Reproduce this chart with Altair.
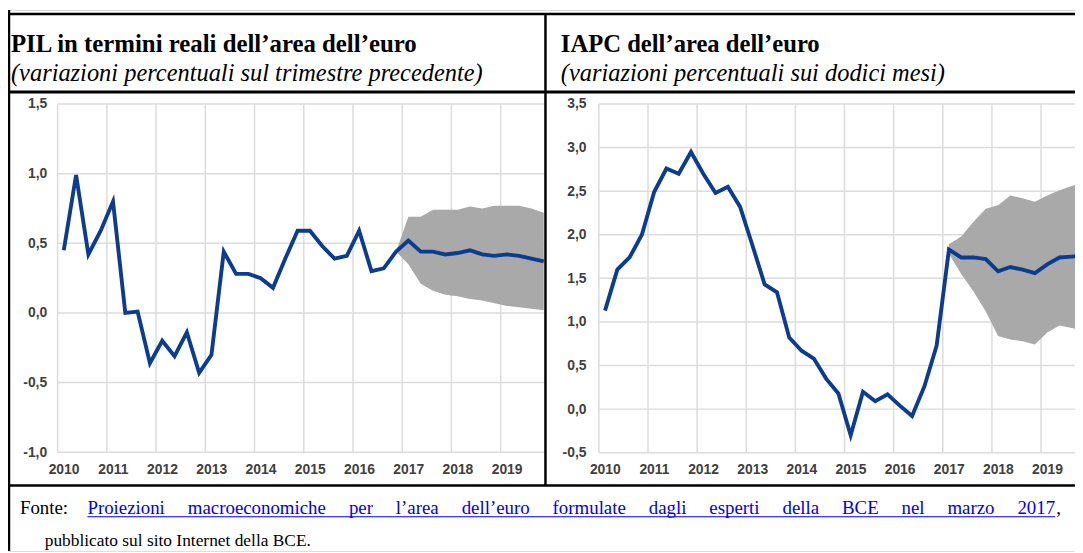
import altair as alt
import pandas as pd

# ------------------------------------------------------------------ data
quarter_labels = [f"{y}Q{q}" for y in range(2010, 2020) for q in range(1, 5)]

gdp_growth = [0.45, 0.99, 0.42, 0.59,
              0.80, 0.00, 0.01, -0.36,
              -0.20, -0.31, -0.14, -0.43,
              -0.30, 0.44, 0.28, 0.28,
              0.25, 0.18, 0.39, 0.59,
              0.59, 0.48, 0.39, 0.41,
              0.59, 0.30, 0.32, 0.44,
              0.52, 0.44, 0.44, 0.42,
              0.43, 0.45, 0.42, 0.41,
              0.42, 0.41, 0.39, 0.37]
gdp_band_quarters = ["2016Q4",
                     "2017Q1", "2017Q2", "2017Q3", "2017Q4",
                     "2018Q1", "2018Q2", "2018Q3", "2018Q4",
                     "2019Q1", "2019Q2", "2019Q3", "2019Q4"]
gdp_band_low = [0.44, 0.35, 0.21, 0.16, 0.13, 0.12, 0.10, 0.09, 0.07, 0.05, 0.04, 0.03, 0.02]
gdp_band_high = [0.44, 0.69, 0.69, 0.74, 0.74, 0.74, 0.765, 0.75, 0.77, 0.77, 0.77, 0.75, 0.72]

hicp_inflation = [1.13, 1.60, 1.74, 2.00,
                  2.49, 2.76, 2.70, 2.95,
                  2.70, 2.48, 2.55, 2.32,
                  1.88, 1.43, 1.34, 0.82,
                  0.67, 0.58, 0.35, 0.18,
                  -0.30, 0.20, 0.09, 0.17,
                  0.04, -0.08, 0.26, 0.73,
                  1.83, 1.74, 1.74, 1.72,
                  1.58, 1.63, 1.60, 1.56,
                  1.66, 1.74, 1.75, 1.76]
hicp_band_quarters = ["2017Q1", "2017Q2", "2017Q3", "2017Q4",
                      "2018Q1", "2018Q2", "2018Q3", "2018Q4",
                      "2019Q1", "2019Q2", "2019Q3", "2019Q4"]
hicp_band_low = [1.78, 1.55, 1.35, 1.12, 0.84, 0.80, 0.78, 0.74, 0.88, 0.96, 0.93, 0.90]
hicp_band_high = [1.89, 1.98, 2.15, 2.30, 2.34, 2.45, 2.42, 2.38, 2.45, 2.51, 2.56, 2.60]

year_ticks = [2010, 2011, 2012, 2013, 2014, 2015, 2016, 2017, 2018, 2019]
gdp_y_ticks = [-1.0, -0.5, 0.0, 0.5, 1.0, 1.5]
hicp_y_ticks = [-0.5, 0.0, 0.5, 1.0, 1.5, 2.0, 2.5, 3.0, 3.5]

titles_left = ["PIL in termini reali dell\u2019area dell\u2019euro",
               "(variazioni percentuali sul trimestre precedente)"]
titles_right = ["IAPC dell\u2019area dell\u2019euro",
                "(variazioni percentuali sui dodici mesi)"]
footer_prefix = "Fonte:"
footer_link_words = ["Proiezioni", "macroeconomiche", "per", "l\u2019area", "dell\u2019euro",
                     "formulate", "dagli", "esperti", "della", "BCE", "nel", "marzo", "2017"]
footer_suffix = ","
footer_line2 = "pubblicato sul sito Internet della BCE."

# ------------------------------------------------------------------ style
W, H = 1075, 545
BLUE = "#0b3c8f"
BAND = "#a9a9a9"
GRID = "#dcdcdc"
LINK = "#0000ee"
SERIF = "Liberation Serif"
SANS = "Liberation Sans"

# approximate advance widths (em) of the footer words, used to justify the line
_word_em = [4.111, 7.331, 1.277, 2.276, 3.610, 3.888, 2.000, 2.666, 1.944,
            1.945, 1.222, 2.499, 2.000]


def qpos(label):
    return int(label[:4]) + (int(label[-1]) - 0.5) / 4.0


LABEL_STYLE = dict(labelFont=SANS, labelFontSize=14, labelFontWeight="bold",
                   labelColor="#404040")
NUM_EXPR = ("replace(replace(format(datum.value, '.1f'), '.', ','), "
            "'\u2212', '-')")


def panel(values, band_q, band_lo, band_hi, y_ticks, x_dom, x_rng, y_dom, y_rng, ypad):
    xs = alt.Scale(domain=x_dom, range=x_rng, nice=False, zero=False)
    ys = alt.Scale(domain=y_dom, range=y_rng, nice=False, zero=False)
    xa = alt.Axis(orient="bottom", offset=y_rng[0] - H, values=year_ticks, format="d",
                  grid=False, domain=False, ticks=False, labelPadding=10,
                  labelOffset=6, labelFlush=False, title=None, labelOverlap=False,
                  **LABEL_STYLE)
    ya = alt.Axis(orient="left", offset=-x_rng[0], values=y_ticks, labelExpr=NUM_EXPR,
                  grid=False, domain=False, ticks=False, labelPadding=ypad,
                  labelFlush=False, title=None, labelOverlap=False, **LABEL_STYLE)

    def X(f):
        return alt.X(f, type="quantitative", scale=xs, axis=xa)

    def Y(f):
        return alt.Y(f, type="quantitative", scale=ys, axis=ya)

    hgrid = alt.Chart(pd.DataFrame({"t": x_dom[0], "t1": x_dom[1], "v": y_ticks})).mark_rule(
        color=GRID, strokeWidth=1.5).encode(x=X("t"), x2="t1", y=Y("v"))
    vgrid = alt.Chart(pd.DataFrame({"t": year_ticks, "v": y_dom[0], "v1": y_dom[1]})).mark_rule(
        color=GRID, strokeWidth=1.5).encode(x=X("t"), y=Y("v"), y2="v1")
    band = alt.Chart(pd.DataFrame({"t": [qpos(q) for q in band_q], "v": band_lo, "v1": band_hi})).mark_area(
        color=BAND, opacity=1).encode(x=X("t"), y=Y("v"), y2="v1")
    line = alt.Chart(pd.DataFrame({"t": [qpos(q) for q in quarter_labels], "v": values})).mark_line(
        color=BLUE, strokeWidth=3.9, strokeJoin="miter").encode(x=X("t"), y=Y("v"))
    return alt.layer(hgrid, vgrid, band, line)


left = panel(gdp_growth, gdp_band_quarters, gdp_band_low, gdp_band_high, gdp_y_ticks,
             [2010, 2019.9], [50, 541], [-1.0, 1.5], [445.5, 94.7], 11)
right = panel(hicp_inflation, hicp_band_quarters, hicp_band_low, hicp_band_high, hicp_y_ticks,
              [2010, 2020], [595.3, 1090.3], [-0.5, 3.5], [446.0, 94.7], 13)

_one = pd.DataFrame({"k": [0]})


def rule(x, x2, y, y2, w=2.5, color="black"):
    return alt.Chart(_one).mark_rule(color=color, strokeWidth=w).encode(
        x=alt.value(x), x2=alt.value(x2), y=alt.value(y), y2=alt.value(y2))


def text(s, x, y, size, weight="normal", style="normal", color="black"):
    return alt.Chart(pd.DataFrame({"s": [s]})).mark_text(
        align="left", baseline="alphabetic", font=SERIF, fontSize=size,
        fontWeight=weight, fontStyle=style, color=color).encode(
        text="s:N", x=alt.value(x), y=alt.value(y))


# justified source line
FOOT_FS = 19
LINK_X0, LINK_X1 = 80, 1055
_widths = [w * FOOT_FS for w in _word_em]
_gap = (LINK_X1 - LINK_X0 - sum(_widths)) / (len(_widths) - 1)
link_marks = []
_x = LINK_X0
for word, wd in zip(footer_link_words, _widths):
    link_marks.append(text(word, _x, 508, FOOT_FS, color=LINK))
    _x += wd + _gap

decor = [
    rule(0, W, 4, 4),            # top border
    rule(1, 1, 0, H),            # left border
    rule(541.5, 541.5, 4, 479),  # middle divider
    rule(0, W, 82.5, 82.5, w=3),  # under titles
    rule(0, W, 479, 479),        # above source
    text(titles_left[0], 3, 42.5, 25, weight="bold"),
    text(titles_left[1], 3, 71.5, 24.6, style="italic"),
    text(titles_right[0], 557, 42.5, 24.8, weight="bold"),
    text(titles_right[1], 557, 71.5, 24.6, style="italic"),
    text(footer_prefix, 12, 508, FOOT_FS),
    *link_marks,
    rule(LINK_X0, LINK_X1, 510.5, 510.5, w=1.2, color=LINK),
    text(footer_suffix, LINK_X1 + 1, 508, FOOT_FS),
    text(footer_line2, 37, 540, 17.5),
]

chart = alt.layer(left, right, *decor).resolve_scale(
    x="independent", y="independent").properties(
    width=W, height=H, autosize=alt.AutoSizeParams(type="none"), padding=0
).configure_view(stroke=None).configure(background="white")

chart.save("out.html", embed_options={"renderer": "svg", "actions": False})
